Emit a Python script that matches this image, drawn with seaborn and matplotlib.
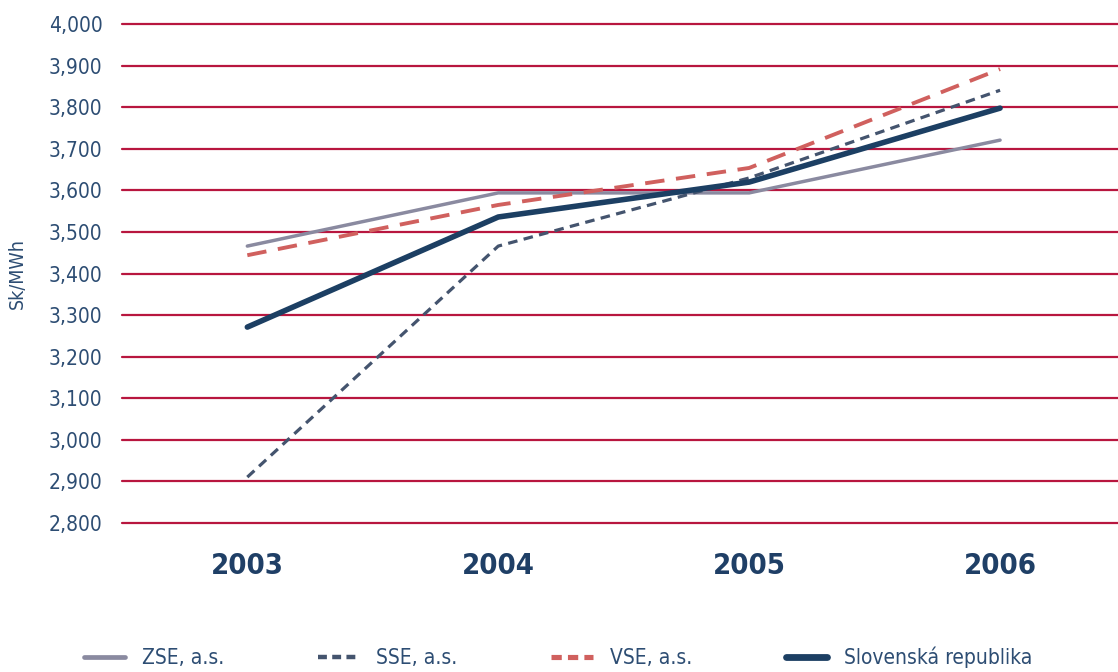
import matplotlib
matplotlib.use("Agg")
import matplotlib.pyplot as plt
import seaborn as sns
import pandas as pd

# values (Sk/MWh)
years = ["2003", "2004", "2005", "2006"]
zse = [3466, 3594, 3594, 3721]
sse = [2910, 3466, 3630, 3841]
vse = [3444, 3565, 3654, 3892]
sr = [3271, 3536, 3620, 3798]
series_names = ["ZSE, a.s.", "SSE, a.s.", "VSE, a.s.", "Slovenská republika"]

rows = []
for name, vals in zip(series_names, [zse, sse, vse, sr]):
    for i, v in enumerate(vals):
        rows.append({"pos": i, "value": v, "series": name})
df = pd.DataFrame(rows)

sns.set_theme(style="white")
plt.rcParams["font.family"] = ["DejaVu Sans"]
plt.rcParams["font.stretch"] = "condensed"

text_col = "#2d4d73"
grid_col = "#b8163f"
palette = {"ZSE, a.s.": "#8a8aa0", "SSE, a.s.": "#44546e",
           "VSE, a.s.": "#d0605e", "Slovenská republika": "#1c3f63"}
dashes = {"ZSE, a.s.": "", "SSE, a.s.": (3, 2),
          "VSE, a.s.": (5, 3), "Slovenská republika": ""}
widths = {"ZSE, a.s.": 2.5, "SSE, a.s.": 2.3,
          "VSE, a.s.": 2.8, "Slovenská republika": 4.0}

fig = plt.figure(figsize=(11.18, 6.72), dpi=100)
ax = fig.add_axes([0.109, 0.222, 0.891, 0.742])

for name in series_names:
    sub = df[df["series"] == name]
    sns.lineplot(data=sub, x="pos", y="value", ax=ax, color=palette[name],
                 linewidth=widths[name], dashes=False, label=name, legend=False,
                 zorder=3)
    if dashes[name]:
        ax.lines[-1].set_dashes(dashes[name])

ax.set_ylim(2800, 4000)
ax.set_xlim(-0.5, 3.47)
ax.set_yticks(range(2800, 4001, 100))
ax.set_yticklabels([f"{v:,}" for v in range(2800, 4001, 100)], color=text_col, fontsize=15)
ax.set_xticks(range(len(years)))
ax.set_xticklabels(years, color="#1f3f66", fontsize=21, fontweight="bold")
ax.tick_params(axis="x", length=0, pad=21)
ax.tick_params(axis="y", length=0, pad=14)
ax.set_xlabel("")
ax.set_ylabel("Sk/MWh", color=text_col, fontsize=14, labelpad=16)
for s in ax.spines.values():
    s.set_visible(False)
for v in range(2800, 4001, 100):
    ax.axhline(v, color=grid_col, linewidth=1.6, zorder=1, clip_on=False)

handles = ax.lines[:4]
leg = fig.legend(handles, series_names, loc="lower center", bbox_to_anchor=(0.499, -0.022),
                 ncol=4, frameon=False, fontsize=15, handlelength=2.0, columnspacing=4.5,
                 labelcolor=text_col)
for h in leg.get_lines():
    h.set_linewidth(h.get_linewidth() + 0.9)
    if h.get_linestyle() != "-":
        h.set_dashes((2, 1.2))

fig.savefig("out.png", dpi=100)
